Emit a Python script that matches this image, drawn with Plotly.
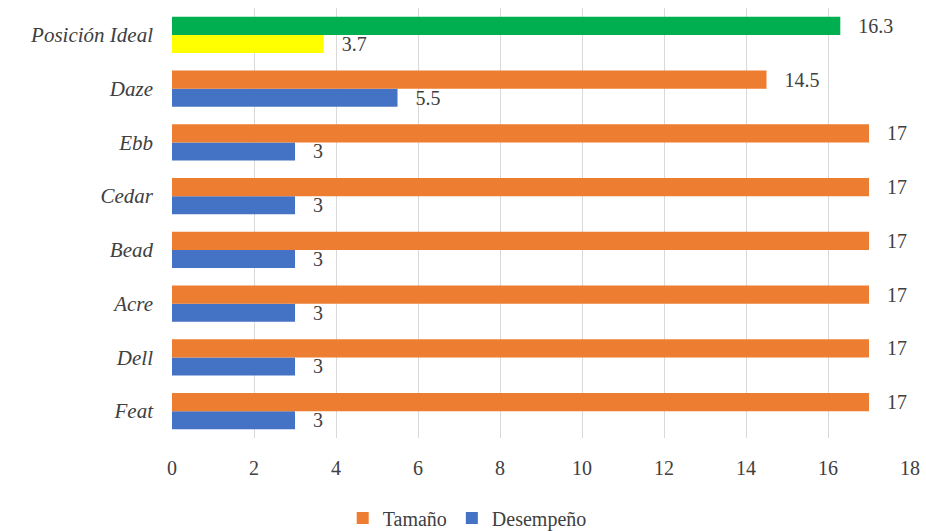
import plotly.graph_objects as go

categories = ["Feat", "Dell", "Acre", "Bead", "Cedar", "Ebb", "Daze", "Posición Ideal"]
tamano = [17, 17, 17, 17, 17, 17, 14.5, 16.3]
desempeno = [3, 3, 3, 3, 3, 3, 5.5, 3.7]
tamano_colors = ["#ED7D31"] * 7 + ["#00B050"]
desempeno_colors = ["#4472C4"] * 7 + ["#FFFF00"]
x_ticks = [0, 2, 4, 6, 8, 10, 12, 14, 16, 18]

def fmt(v):
    s = str(int(v)) if float(v).is_integer() else f"{v:.1f}"
    return "   " + s

font_family = ("'Liberation Serif', Tinos, 'Nimbus Roman', 'Nimbus Roman No9 L', "
               "FreeSerif, 'Noto Serif', 'DejaVu Serif', 'Liberation Sans'")
txt_color = "#404040"

fig = go.Figure()
fig.add_trace(go.Bar(
    y=categories, x=desempeno, name="Desempeño", orientation="h",
    marker=dict(color=desempeno_colors, line=dict(width=0)),
    text=[fmt(v) for v in desempeno], textposition="outside",
    constraintext="none",
    textfont=dict(family=font_family, size=20, color=txt_color),
    cliponaxis=False, legendrank=2,
))
fig.add_trace(go.Bar(
    y=categories, x=tamano, name="Tamaño", orientation="h",
    marker=dict(color=tamano_colors, line=dict(width=0)),
    text=[fmt(v) for v in tamano], textposition="outside",
    constraintext="none",
    textfont=dict(family=font_family, size=20, color=txt_color),
    cliponaxis=False, legendrank=1,
))

fig.update_layout(
    width=926, height=531,
    barmode="group", bargap=0.33, bargroupgap=0.0,
    plot_bgcolor="white", paper_bgcolor="white",
    margin=dict(l=172, r=16, t=8, b=93, autoexpand=False),
    font=dict(family=font_family, color=txt_color, size=20),
    showlegend=True,
    legend=dict(orientation="h", x=0.40, xanchor="center", y=-0.186, yanchor="middle",
                font=dict(family=font_family, size=20, color=txt_color),
                itemwidth=30, tracegroupgap=0),
)
fig.update_xaxes(range=[0, 18], tickvals=x_ticks, showgrid=True, gridcolor="#D9D9D9",
                 gridwidth=1, zeroline=False, showline=False,
                 tickfont=dict(family=font_family, size=20, color=txt_color),
                 ticklabelstandoff=16)
fig.update_yaxes(type="category", categoryorder="array", categoryarray=categories,
                 showgrid=False, zeroline=False, showline=False,
                 tickfont=dict(family=font_family, size=21, color=txt_color, style="italic"),
                 ticklabelstandoff=18)

fig.write_html("out.html")
